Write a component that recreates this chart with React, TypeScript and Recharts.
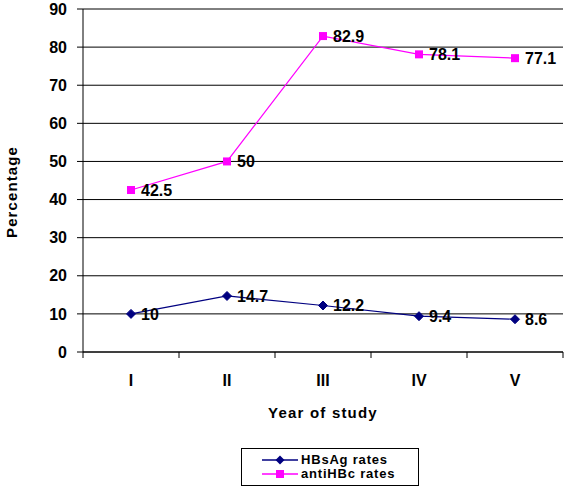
import React from 'react'
import { LineChart, Line, XAxis, YAxis, CartesianGrid, LabelList, Label } from 'recharts'

const years = ['I', 'II', 'III', 'IV', 'V']
const hbsAgRates = [10, 14.7, 12.2, 9.4, 8.6]
const antiHbcRates = [42.5, 50, 82.9, 78.1, 77.1]
const yTicks = [0, 10, 20, 30, 40, 50, 60, 70, 80, 90]

const data = years.map((year, i) => ({ year, hbsag: hbsAgRates[i], antihbc: antiHbcRates[i] }))

const FONT = 'Arial, "Liberation Sans", sans-serif'
const NAVY = '#000080'
const MAGENTA = '#FF00FF'

const Diamond = (props: any) => {
  const { cx, cy } = props
  if (cx == null || cy == null) return null
  const r = 4.5
  return <path d={`M${cx},${cy - r}L${cx + r},${cy}L${cx},${cy + r}L${cx - r},${cy}Z`} fill={NAVY} stroke={NAVY} />
}

const Square = (props: any) => {
  const { cx, cy } = props
  if (cx == null || cy == null) return null
  return <rect x={cx - 4} y={cy - 4} width={8} height={8} fill={MAGENTA} />
}

// category ticks: label at centre, tick marks on band edges
const YearTick = (props: any) => {
  const { x, y, payload, index } = props
  const half = payload && payload.offset ? payload.offset : 48
  return (
    <g>
      <line x1={x - half} x2={x - half} y1={y} y2={y + 6} stroke="#000" />
      {index === years.length - 1 && <line x1={x + half} x2={x + half} y1={y} y2={y + 6} stroke="#000" />}
      <text x={x} y={y + 28} textAnchor="middle" dominantBaseline="central" fontFamily={FONT} fontWeight="bold" fontSize={16} fill="#000">
        {payload.value}
      </text>
    </g>
  )
}

const LegendIcon = ({ color, square }: { color: string; square: boolean }) => (
  <svg width={36} height={12} style={{ display: 'block', marginRight: 3 }}>
    <line x1={0} x2={36} y1={6} y2={6} stroke={color} strokeWidth={1.5} />
    {square
      ? <rect x={14} y={2} width={8} height={8} fill={color} />
      : <path d="M18,1.5L22.5,6L18,10.5L13.5,6Z" fill={color} />}
  </svg>
)

export default function App() {
  return (
    <div style={{ position: 'absolute', left: 0, top: 0, width: 570, height: 492, background: '#fff' }}>
      <LineChart width={570} height={492} data={data} margin={{ top: 9, right: 7, left: 0, bottom: 0 }}>
        <CartesianGrid vertical={false} stroke="#000" strokeWidth={1} />
        <XAxis
          dataKey="year"
          scale="band"
          height={140}
          axisLine={{ stroke: '#000' }}
          tickLine={false}
          tickSize={0}
          tickMargin={0}
          tick={<YearTick />}
          interval={0}
        >
          <Label
            content={() => (
              <text x={323} y={412} textAnchor="middle" dominantBaseline="central" fontFamily={FONT} fontWeight="bold" fontSize={15} letterSpacing={1.2} fill="#000">
                Year of study
              </text>
            )}
          />
        </XAxis>
        <YAxis
          width={83}
          domain={[0, 90]}
          ticks={yTicks}
          interval={0}
          axisLine={{ stroke: '#000' }}
          tickLine={{ stroke: '#000' }}
          tickSize={6}
          tickMargin={10}
          tick={{ fill: '#000', fontFamily: FONT, fontWeight: 'bold', fontSize: 16 }}
        >
          <Label
            content={() => (
              <text x={11} y={192} transform="rotate(-90 11 192)" textAnchor="middle" dominantBaseline="central" fontFamily={FONT} fontWeight="bold" fontSize={15} letterSpacing={1.1} fill="#000">
                Percentage
              </text>
            )}
          />
        </YAxis>
        <Line type="linear" dataKey="hbsag" stroke={NAVY} strokeWidth={1.2} dot={<Diamond />} activeDot={false} isAnimationActive={false}>
          <LabelList dataKey="hbsag" position="right" offset={10} fill="#000" fontFamily={FONT} fontWeight="bold" fontSize={16} />
        </Line>
        <Line type="linear" dataKey="antihbc" stroke={MAGENTA} strokeWidth={1.2} dot={<Square />} activeDot={false} isAnimationActive={false}>
          <LabelList dataKey="antihbc" position="right" offset={10} fill="#000" fontFamily={FONT} fontWeight="bold" fontSize={16} />
        </Line>
      </LineChart>
      <div
        style={{
          position: 'absolute', left: 241, top: 448, width: 178, height: 38, boxSizing: 'border-box',
          border: '1px solid #000', fontFamily: FONT, fontWeight: 'bold', fontSize: 13, letterSpacing: 0.8,
          display: 'flex', flexDirection: 'column', justifyContent: 'center', paddingLeft: 20, lineHeight: '14px',
        }}
      >
        <div style={{ display: 'flex', alignItems: 'center', height: 14 }}><LegendIcon color={NAVY} square={false} />HBsAg rates</div>
        <div style={{ display: 'flex', alignItems: 'center', height: 14 }}><LegendIcon color={MAGENTA} square={true} />antiHBc rates</div>
      </div>
    </div>
  )
}
